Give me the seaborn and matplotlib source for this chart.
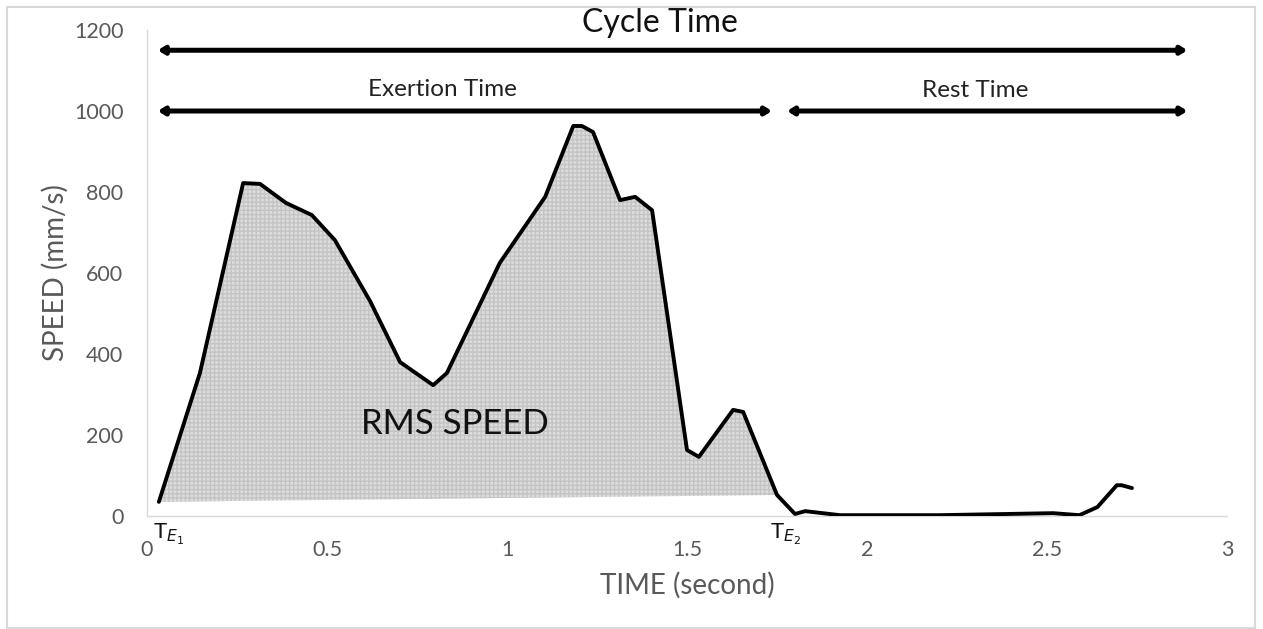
import numpy as np
import pandas as pd
import seaborn as sns
import matplotlib.pyplot as plt
from matplotlib.patches import Rectangle

# RMS speed
time = [0.033, 0.147, 0.267, 0.314, 0.386, 0.458, 0.522, 0.62, 0.703, 0.795, 0.833,
        0.98, 1.106, 1.184, 1.208, 1.239, 1.314, 1.356, 1.403, 1.5, 1.533, 1.628,
        1.656, 1.75, 1.8, 1.828, 1.925, 2.2, 2.517, 2.59, 2.64, 2.694, 2.707, 2.736]
speed = [35, 353, 822, 820, 773, 743, 681, 530, 380, 323, 353,
         625, 788, 963, 963, 948, 780, 788, 755, 163, 146, 262,
         257, 52, 5, 12, 2, 2, 7, 2, 22, 76, 76, 69]
exertion_end = 1.75

x_ticks = [0, 0.5, 1, 1.5, 2, 2.5, 3]
x_tick_labels = ['0', '0.5', '1', '1.5', '2', '2.5', '3']
y_ticks = [0, 200, 400, 600, 800, 1000, 1200]

df = pd.DataFrame({'time': time, 'speed': speed})

sns.set_style('white')
plt.rcParams['font.family'] = ['Lato', 'DejaVu Sans']

fig = plt.figure(figsize=(12.63, 6.29), dpi=100)
ax = fig.add_axes([147 / 1263, 1 - 516 / 629, 1080 / 1263, 486 / 629])

# grey shaded area under the exertion part
ex = df[df['time'] <= exertion_end]
ax.fill(ex['time'], ex['speed'], facecolor='#dcdcdc', edgecolor='#c4c4c4',
        hatch='++++', linewidth=0, zorder=1)

sns.lineplot(data=df, x='time', y='speed', color='black', linewidth=2.8,
             ax=ax, zorder=3, sort=False)

ax.set_xlim(0, 3)
ax.set_ylim(0, 1200)
ax.set_xticks(x_ticks)
ax.set_xticklabels(x_tick_labels)
ax.set_yticks(y_ticks)
ax.tick_params(axis='both', length=0, labelsize=15.5, labelcolor='#595959')
ax.tick_params(axis='x', pad=17)
ax.tick_params(axis='y', pad=17)
for s in ['top', 'right']:
    ax.spines[s].set_visible(False)
for s in ['left', 'bottom']:
    ax.spines[s].set_color('#d9d9d9')
    ax.spines[s].set_linewidth(1)

ax.set_xlabel('TIME (second)', fontsize=20, color='#595959', labelpad=9)
ax.set_ylabel('SPEED (mm/s)', fontsize=20, color='#595959', labelpad=4)

# time span arrows
arrow = dict(arrowstyle='<|-|>,head_length=0.35,head_width=0.22', lw=3.6,
             color='black', shrinkA=0, shrinkB=0)
ax.annotate('', xy=(2.89, 1150), xytext=(0.03, 1150), arrowprops=arrow,
            annotation_clip=False)
ax.annotate('', xy=(1.736, 1000), xytext=(0.03, 1000), arrowprops=arrow)
ax.annotate('', xy=(2.89, 1000), xytext=(1.778, 1000), arrowprops=arrow)

ax.text(1.425, 1218, 'Cycle Time', fontsize=23, ha='center', va='center',
        color='#111111', clip_on=False)
ax.text(0.822, 1052, 'Exertion Time', fontsize=17.5, ha='center', va='center',
        color='#222222')
ax.text(2.3, 1050, 'Rest Time', fontsize=17.5, ha='center', va='center',
        color='#222222')
ax.text(0.855, 227, 'RMS SPEED', fontsize=25, ha='center', va='center',
        color='#111111', zorder=4)

ax.text(0.018, -15, r'T$_{E_1}$', fontsize=16, ha='left', va='top',
        color='#111111', clip_on=False)
ax.text(1.73, -15, r'T$_{E_2}$', fontsize=16, ha='left', va='top',
        color='#111111', clip_on=False)

fig.patches.append(Rectangle((7 / 1263, 1 / 629), 1248 / 1263, 621 / 629,
                             transform=fig.transFigure, fill=False,
                             edgecolor='#d9d9d9', linewidth=1.5))

fig.savefig('out.png', dpi=100)
